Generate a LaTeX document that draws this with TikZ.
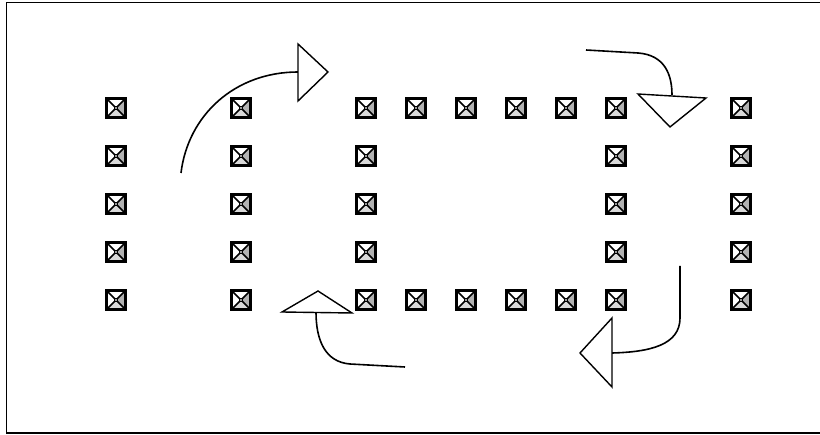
\documentclass[tikz,border=0pt]{standalone}
\usetikzlibrary{calc}
\tikzset{
  cell/.style={draw, line width=2.1pt, rectangle, minimum size=19pt, inner sep=0pt,
    path picture={
      \fill[black!30] (path picture bounding box.north east) -- (path picture bounding box.center) -- (path picture bounding box.south east) -- cycle;
      \fill[black!15] (path picture bounding box.south west) -- (path picture bounding box.center) -- (path picture bounding box.south east) -- cycle;
      \draw[line width=1.5pt] (path picture bounding box.north west) -- (path picture bounding box.south east)
            (path picture bounding box.north east) -- (path picture bounding box.south west);
      \draw[line width=0.9pt, fill=black!40] ($(path picture bounding box.center)+(-1.7pt,-1.7pt)$) rectangle ($(path picture bounding box.center)+(1.7pt,1.7pt)$);
    }},
  curve/.style={line width=1.6pt},
  head/.style={line width=1.4pt, fill=white, line join=miter},
  frame/.style={line width=1.8pt}
}
\begin{document}
\begin{tikzpicture}[x=1pt,y=-1pt]
\useasboundingbox (0,0) rectangle (820,435);
\draw[frame] (821,2.5) -- (6.5,2.5) -- (6.5,433) -- (821,433);
% full columns
\foreach \c/\x in {1/116,2/241,3/366,8/616,9/741}{
  \foreach \r/\y in {1/108,2/156,3/204,4/252,5/300}{
    \node[cell] (c\c-\r) at (\x,\y) {};
  }
}
% top and bottom rows of inner rectangle
\foreach \c/\x in {4/416,5/466,6/516,7/566}{
  \foreach \r/\y in {1/108,5/300}{
    \node[cell] (c\c-\r) at (\x,\y) {};
  }
}
% arrow 1 (top left)
\coordinate (a1s) at (181,173);
\coordinate (a1e) at (298,72);
\draw[curve] (a1s) .. controls (188,115) and (235,72) .. (a1e);
\draw[head] (298,44) -- (328,72) -- (298,101) -- cycle;
% arrow 2 (top right)
\coordinate (a2s) at (586,50);
\coordinate (a2m) at (638,53);
\coordinate (a2e) at (672,95);
\draw[curve] (a2s) -- (a2m) .. controls (665,55) and (672,75) .. (a2e);
\draw[head] (638,94) -- (706,98) -- (670,127) -- cycle;
% arrow 3 (bottom right)
\coordinate (a3s) at (680,266);
\coordinate (a3m) at (680,318);
\coordinate (a3e) at (612,353);
\draw[curve] (a3s) -- (a3m) .. controls (680,345) and (650,352) .. (a3e);
\draw[head] (612,318) -- (612,387) -- (580,353) -- cycle;
% arrow 4 (bottom left)
\coordinate (a4s) at (405,367);
\coordinate (a4m) at (350,364);
\coordinate (a4e) at (316,312);
\draw[curve] (a4s) -- (a4m) .. controls (325,362) and (316,340) .. (a4e);
\draw[head] (282,312) -- (352,313) -- (318,291) -- cycle;
\end{tikzpicture}
\end{document}
